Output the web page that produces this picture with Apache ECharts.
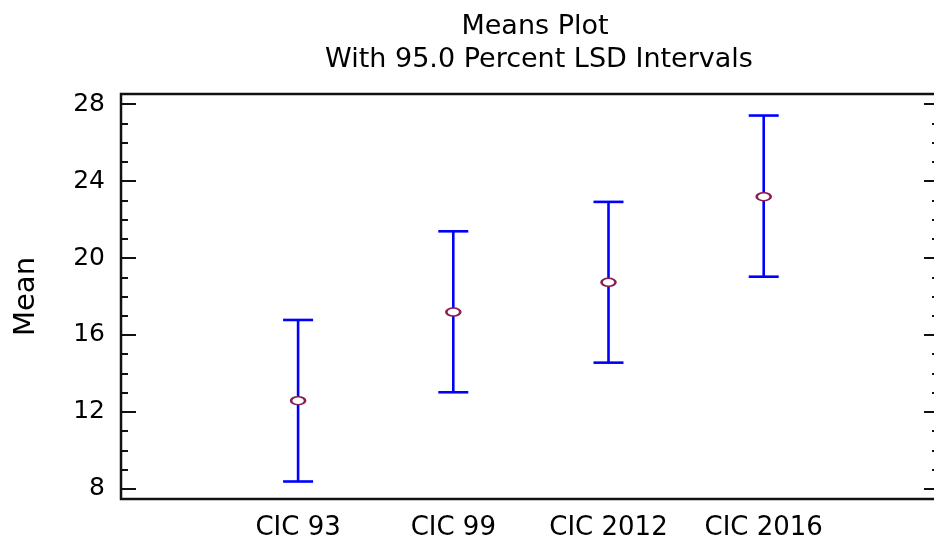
<!DOCTYPE html>
<html>
<head>
<meta charset="utf-8">
<title>Means Plot</title>
<script src="https://cdn.jsdelivr.net/npm/echarts@6/dist/echarts.min.js"></script>
<style>
  html, body { margin: 0; padding: 0; background: #ffffff; overflow: hidden; }
  #chart { width: 934px; height: 536px; }
</style>
</head>
<body>
<div id="chart"></div>
<script>
// Group labels and the 95% LSD interval for each group mean
const categories = ['CIC 93', 'CIC 99', 'CIC 2012', 'CIC 2016'];
const means = [12.58, 17.19, 18.74, 23.19];
const lowerLimits = [8.38, 13.02, 14.56, 19.03];
const upperLimits = [16.78, 21.39, 22.92, 27.41];

// Y-axis ticks: labelled majors and unlabelled minors
const majorTicks = [8, 12, 16, 20, 24, 28];
const minorTicks = [9, 10, 11, 13, 14, 15, 17, 18, 19, 21, 22, 23, 25, 26, 27];

const titleText = 'Means Plot';
const subtitleText = 'With 95.0 Percent LSD Intervals';
const yName = 'Mean';

const FONT = 'DejaVu Sans';
const AXIS_COLOR = '#111111';
const BAR_COLOR = '#0000ff';
const MARK_COLOR = '#8b1c50';

const positions = categories.map((c, i) => i + 1);
const intervalData = positions.map((p, i) => [p, lowerLimits[i], upperLimits[i]]);
const meanData = positions.map((p, i) => [p, means[i]]);

const Y_MIN = 7.47, Y_MAX = 28.53;

function yAxisBase(extra) {
  return Object.assign({
    type: 'value',
    min: Y_MIN,
    max: Y_MAX,
    splitLine: { show: false },
    axisLine: { show: false },
    axisLabel: { show: false },
    axisTick: { show: false }
  }, extra);
}

// Inward tick marks on one side of the plot frame
function tickAxis(position, values, length) {
  return yAxisBase({
    position: position,
    axisTick: {
      show: true, inside: true, length: length,
      customValues: values,
      lineStyle: { color: AXIS_COLOR, width: 2 }
    }
  });
}

const chart = echarts.init(document.getElementById('chart'), null, { renderer: 'canvas' });

chart.setOption({
  animation: false,
  backgroundColor: '#ffffff',
  title: [
    {
      text: titleText,
      left: 530,
      textAlign: 'center',
      top: 8,
      textStyle: { fontFamily: FONT, fontSize: 27, fontWeight: 'normal', color: '#000' }
    },
    {
      text: subtitleText,
      left: 534,
      textAlign: 'center',
      top: 41,
      textStyle: { fontFamily: FONT, fontSize: 27, fontWeight: 'normal', color: '#000' }
    }
  ],
  grid: {
    left: 121,
    top: 94,
    width: 817,
    height: 405,
    containLabel: false,
    outerBoundsMode: 'none',
    show: true,
    borderColor: AXIS_COLOR,
    borderWidth: 2.5,
    backgroundColor: 'transparent'
  },
  xAxis: {
    type: 'value',
    min: -0.141,
    max: 5.123,
    splitLine: { show: false },
    axisLine: { show: false },
    axisTick: { show: false },
    axisLabel: {
      customValues: positions,
      formatter: (v) => categories[Math.round(v) - 1] || '',
      fontFamily: FONT,
      fontSize: 26,
      color: '#000',
      margin: 16
    }
  },
  yAxis: [
    yAxisBase({
      position: 'left',
      name: yName,
      nameLocation: 'middle',
      nameGap: 80,
      nameTextStyle: { fontFamily: FONT, fontSize: 29, color: '#000' },
      axisLabel: {
        show: true,
        customValues: majorTicks,
        fontFamily: FONT,
        fontSize: 25,
        color: '#000',
        margin: 16
      }
    }),
    tickAxis('left', majorTicks, 15),
    tickAxis('left', minorTicks, 7),
    tickAxis('right', majorTicks, 14),
    tickAxis('right', minorTicks, 6)
  ],
  series: [
    {
      name: 'LSD interval',
      type: 'custom',
      xAxisIndex: 0,
      yAxisIndex: 0,
      encode: { x: 0, y: [1, 2] },
      data: intervalData,
      z: 2,
      renderItem: function (params, api) {
        const x = api.value(0);
        const lo = api.coord([x, api.value(1)]);
        const hi = api.coord([x, api.value(2)]);
        const half = 15;
        const style = { stroke: BAR_COLOR, lineWidth: 2.6 };
        return {
          type: 'group',
          children: [
            { type: 'line', shape: { x1: hi[0], y1: hi[1], x2: lo[0], y2: lo[1] }, style: style },
            { type: 'line', shape: { x1: hi[0] - half, y1: hi[1], x2: hi[0] + half, y2: hi[1] }, style: style },
            { type: 'line', shape: { x1: lo[0] - half, y1: lo[1], x2: lo[0] + half, y2: lo[1] }, style: style }
          ]
        };
      }
    },
    {
      name: 'Mean',
      type: 'scatter',
      xAxisIndex: 0,
      yAxisIndex: 0,
      data: meanData,
      symbol: 'circle',
      symbolSize: [14, 8],
      z: 3,
      itemStyle: { color: '#ffffff', borderColor: MARK_COLOR, borderWidth: 2, opacity: 1 }
    }
  ]
});
</script>
</body>
</html>
